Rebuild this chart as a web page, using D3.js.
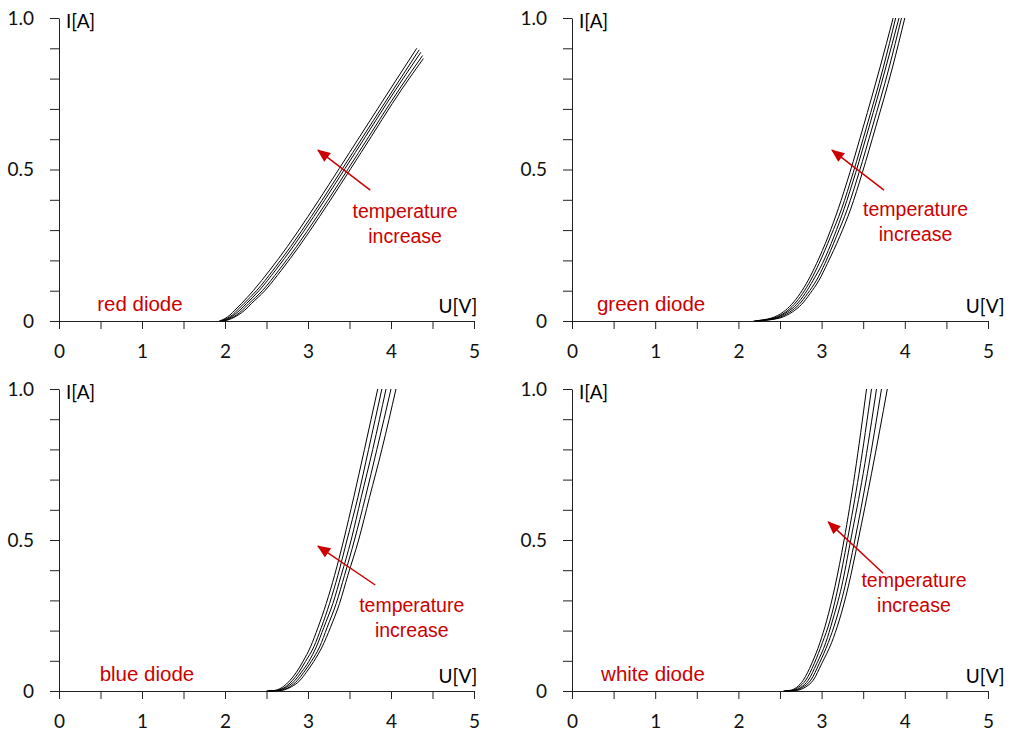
<!DOCTYPE html>
<html>
<head>
<meta charset="utf-8">
<script src="https://cdn.jsdelivr.net/npm/d3@7"></script>
<style>
  html, body { margin: 0; padding: 0; background: #fff; }
  svg { display: block; }
</style>
</head>
<body>
<script>
// current levels I[A] shared by the five curves of one diode, voltages U[V] per curve
// (hottest curve first, it sits furthest left)
const redI = [0, 0.008, 0.02, 0.036, 0.058, 0.10, 0.168, 0.245, 0.345, 0.556, 0.769];
const redU = [
    [1.93, 2.00, 2.06, 2.12, 2.20, 2.34, 2.54, 2.75, 3.00, 3.50, 4.00],
    [1.95, 2.02, 2.09, 2.15, 2.23, 2.38, 2.58, 2.79, 3.04, 3.54, 4.04],
    [1.96, 2.04, 2.11, 2.18, 2.26, 2.41, 2.61, 2.82, 3.07, 3.57, 4.07],
    [1.98, 2.06, 2.14, 2.21, 2.29, 2.45, 2.65, 2.86, 3.11, 3.61, 4.11],
    [1.99, 2.08, 2.16, 2.24, 2.32, 2.48, 2.68, 2.89, 3.14, 3.64, 4.14]
];
// red curves stop short of 1 A, each at its own point
const redEnds = [[4.31, 0.90], [4.34, 0.895], [4.36, 0.887], [4.38, 0.876], [4.39, 0.866]];

const greenI = [0, 0.004, 0.01, 0.03, 0.055, 0.09, 0.135, 0.19, 0.28, 0.37, 0.49, 0.64, 0.835, 1.0];
const greenU = [
    [2.18, 2.30, 2.40, 2.54, 2.64, 2.74, 2.84, 2.94, 3.08, 3.20, 3.34, 3.50, 3.70, 3.86],
    [2.20, 2.32, 2.43, 2.57, 2.67, 2.77, 2.87, 2.97, 3.11, 3.24, 3.38, 3.54, 3.74, 3.89],
    [2.22, 2.34, 2.45, 2.59, 2.70, 2.80, 2.90, 3.01, 3.15, 3.27, 3.41, 3.57, 3.77, 3.93],
    [2.24, 2.36, 2.47, 2.62, 2.73, 2.83, 2.94, 3.04, 3.18, 3.31, 3.45, 3.61, 3.81, 3.96],
    [2.26, 2.38, 2.50, 2.65, 2.76, 2.86, 2.97, 3.07, 3.22, 3.35, 3.49, 3.65, 3.85, 4.00]
];

const blueI = [0, 0.002, 0.014, 0.034, 0.062, 0.098, 0.146, 0.21, 0.29, 0.383, 0.50, 0.64, 0.80, 1.0];
const blueU = [
    [2.50, 2.60, 2.70, 2.78, 2.86, 2.94, 3.03, 3.12, 3.22, 3.32, 3.43, 3.55, 3.68, 3.84],
    [2.51, 2.62, 2.73, 2.81, 2.89, 2.97, 3.07, 3.16, 3.26, 3.36, 3.47, 3.60, 3.73, 3.89],
    [2.52, 2.64, 2.75, 2.84, 2.92, 3.01, 3.10, 3.19, 3.30, 3.40, 3.52, 3.64, 3.78, 3.94],
    [2.53, 2.66, 2.78, 2.87, 2.95, 3.04, 3.14, 3.23, 3.34, 3.44, 3.56, 3.69, 3.83, 4.00],
    [2.54, 2.68, 2.80, 2.90, 2.98, 3.07, 3.17, 3.27, 3.38, 3.48, 3.61, 3.74, 3.89, 4.06]
];

const whiteI = [0, 0.002, 0.012, 0.036, 0.09, 0.16, 0.232, 0.345, 0.50, 0.72, 1.0];
const whiteU = [
    [2.54, 2.62, 2.70, 2.78, 2.88, 2.98, 3.06, 3.16, 3.27, 3.40, 3.54],
    [2.55, 2.64, 2.72, 2.81, 2.91, 3.01, 3.10, 3.20, 3.31, 3.45, 3.60],
    [2.56, 2.66, 2.75, 2.84, 2.94, 3.05, 3.13, 3.24, 3.35, 3.50, 3.66],
    [2.57, 2.68, 2.77, 2.87, 2.97, 3.08, 3.17, 3.28, 3.40, 3.55, 3.72],
    [2.58, 2.70, 2.80, 2.90, 3.00, 3.12, 3.21, 3.32, 3.44, 3.60, 3.79]
];

const diodeNames = ['red diode', 'green diode', 'blue diode', 'white diode'];
const xTicks = [0, 0.5, 1, 1.5, 2, 2.5, 3, 3.5, 4, 4.5, 5];
const yTicks = [0, 0.1, 0.2, 0.3, 0.4, 0.5, 0.6, 0.7, 0.8, 0.9, 1.0];
const xTickLabels = {0: '0', 1: '1', 2: '2', 3: '3', 4: '4', 5: '5'};
const yTickLabels = {0: '0', 0.5: '0.5', 1: '1.0'};
const annotationLines = ['temperature', 'increase'];

const red = '#cc0000';
const numFont = 'Lato, "Open Sans", sans-serif';
const txtFont = '"Liberation Sans", Arial, sans-serif';

const toPoints = (us, is) => us.map((u, i) => [u, is[i]]);

const redCurves = redU.map((us, k) => toPoints(us, redI).concat([redEnds[k]]));
const greenCurves = greenU.map(us => toPoints(us, greenI));
const blueCurves = blueU.map(us => toPoints(us, blueI));
const whiteCurves = whiteU.map(us => toPoints(us, whiteI));

// pixel frame of each small plot
const panels = [
    {curves: redCurves, name: diodeNames[0], x0: 59, x1: 474, y0: 321, y1: 18, uLab: 5.04,
        nameAt: [0.46, 0.033], arrow: [[3.75, 0.432], [3.12, 0.564]], textAt: [4.17, 0.34]},
    {curves: greenCurves, name: diodeNames[1], x0: 572, x1: 988, y0: 321, y1: 18, uLab: 5.2,
        nameAt: [0.30, 0.033], arrow: [[3.75, 0.432], [3.125, 0.564]], textAt: [4.13, 0.346]},
    {curves: blueCurves, name: diodeNames[2], x0: 59, x1: 474, y0: 691, y1: 389, uLab: 5.04,
        nameAt: [0.49, 0.033], arrow: [[3.81, 0.351], [3.12, 0.48]], textAt: [4.25, 0.26]},
    {curves: whiteCurves, name: diodeNames[3], x0: 572, x1: 988, y0: 691, y1: 389, uLab: 5.2,
        nameAt: [0.35, 0.033], arrow: [[3.74, 0.39], [3.08, 0.56]], textAt: [4.11, 0.344]}
];

const svg = d3.select('body').append('svg')
    .attr('width', 1011)
    .attr('height', 733);

svg.append('defs').append('marker')
    .attr('id', 'head')
    .attr('viewBox', '0 0 12 10')
    .attr('refX', 11)
    .attr('refY', 5)
    .attr('markerUnits', 'userSpaceOnUse')
    .attr('markerWidth', 14)
    .attr('markerHeight', 11)
    .attr('orient', 'auto')
    .append('path')
    .attr('d', 'M0,0L12,5L0,10Z')
    .attr('fill', red);

panels.forEach(p => {
    const x = d3.scaleLinear().domain([0, 5]).range([p.x0, p.x1]);
    const y = d3.scaleLinear().domain([0, 1]).range([p.y0, p.y1]);
    const g = svg.append('g');

    const xAxis = g.append('g')
        .attr('transform', `translate(0,${p.y0})`)
        .call(d3.axisBottom(x).tickValues(xTicks).tickSize(8).tickSizeOuter(0).tickPadding(16)
            .tickFormat(d => xTickLabels[d] || ''));
    const yAxis = g.append('g')
        .attr('transform', `translate(${p.x0},0)`)
        .call(d3.axisLeft(y).tickValues(yTicks).tickSize(9).tickSizeOuter(0).tickPadding(16)
            .tickFormat(d => yTickLabels[Math.round(d * 10) / 10] || ''));

    [xAxis, yAxis].forEach(a => {
        a.selectAll('path, line').attr('stroke', '#222');
        a.selectAll('text').attr('fill', '#111').style('font', `19px ${numFont}`);
    });

    g.append('text')
        .attr('x', p.x0 + 7)
        .attr('y', p.y1 + 10)
        .style('font', `19px ${numFont}`)
        .text('I[A]');
    g.append('text')
        .attr('x', x(p.uLab))
        .attr('y', p.y0 - 8)
        .attr('text-anchor', 'end')
        .style('font', `19px ${numFont}`)
        .text('U[V]');

    const line = d3.line()
        .x(d => x(d[0]))
        .y(d => y(d[1]))
        .curve(d3.curveMonotoneX);

    g.append('g')
        .attr('fill', 'none')
        .attr('stroke', '#000')
        .attr('stroke-width', 1)
        .selectAll('path')
        .data(p.curves)
        .join('path')
        .attr('d', line);

    g.append('text')
        .attr('x', x(p.nameAt[0]))
        .attr('y', y(p.nameAt[1]))
        .attr('fill', red)
        .style('font', `20.5px ${txtFont}`)
        .text(p.name);

    g.append('line')
        .attr('x1', x(p.arrow[0][0]))
        .attr('y1', y(p.arrow[0][1]))
        .attr('x2', x(p.arrow[1][0]))
        .attr('y2', y(p.arrow[1][1]))
        .attr('stroke', red)
        .attr('stroke-width', 1.5)
        .attr('marker-end', 'url(#head)');

    g.append('g')
        .selectAll('text')
        .data(annotationLines)
        .join('text')
        .attr('x', x(p.textAt[0]))
        .attr('y', (d, i) => y(p.textAt[1]) + i * 25)
        .attr('text-anchor', 'middle')
        .attr('fill', red)
        .style('font', `19.5px ${txtFont}`)
        .text(d => d);
});
</script>
</body>
</html>
